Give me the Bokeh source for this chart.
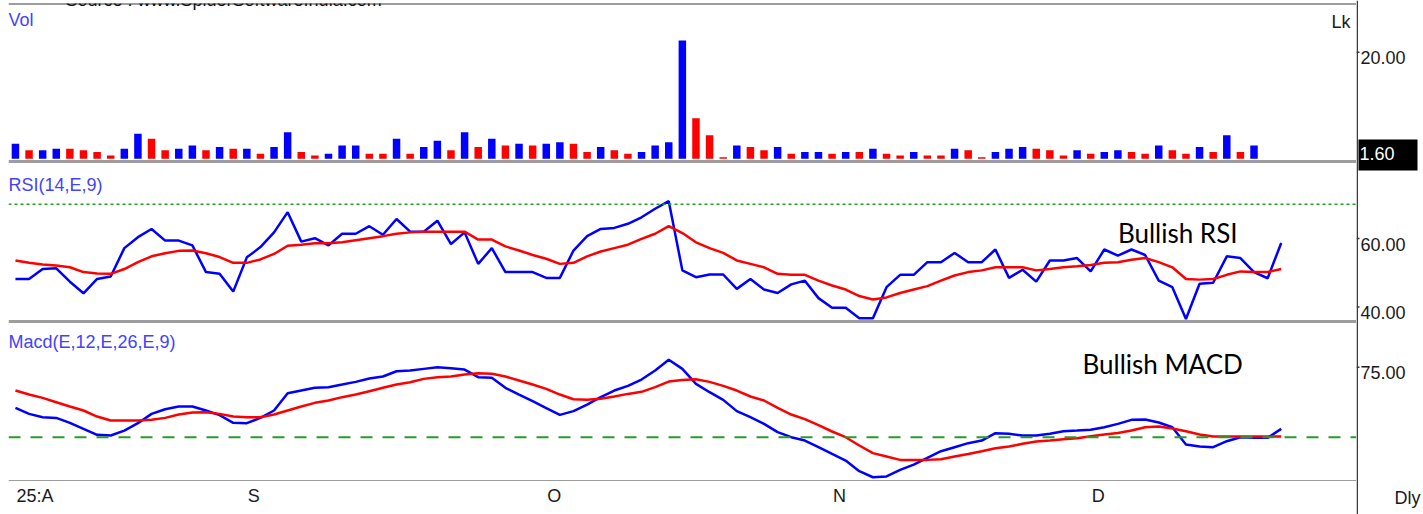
from bokeh.plotting import figure
from bokeh.layouts import column, row
from bokeh.models import Range1d, Span, Label, ColumnDataSource
from bokeh.core.properties import value
from bokeh.embed import file_html
from bokeh.resources import INLINE

# ---------------- data ----------------
volume = [2.8, 1.6, 1.6, 1.9, 1.9, 1.6, 1.25, 0.6, 1.9, 4.7, 3.75, 1.6, 1.9, 2.5, 1.6,
          2.2, 1.9, 1.9, 0.95, 2.2, 5.0, 1.25, 0.6, 0.95, 2.5, 2.5, 0.95, 0.95, 3.75, 0.95,
          2.2, 3.4, 1.6, 5.0, 2.2,
          3.75, 2.5, 2.8, 2.5, 2.8, 3.1, 2.8, 1.25, 2.2, 1.6, 0.95, 1.25, 2.5, 3.1, 22.2,
          7.6, 4.4, 0.3, 2.5, 2.2, 1.6, 2.2, 0.95, 1.25, 1.25, 0.95, 1.25, 1.25, 1.9, 0.95,
          0.6, 1.25, 0.6, 0.6,
          1.9, 1.6, 0.3, 1.25, 1.9, 2.2, 1.9, 1.6, 0.6, 1.6, 0.95, 1.25, 1.6, 1.25, 0.95,
          2.5, 1.6, 0.95, 2.2, 1.25, 4.4, 1.25, 2.5, 1.25, 1.60]
vol_dir = list("BRBBRRRRBBRRBBRBRBRBBRRBBBRRBRBBRBR"
               "BRBRBBRRBRRBBBBRRRBRRBRBBRBRBRRBRR"
               "BRRBBBRRRBRBBRRBRRBRBRB")

rsi = [48.2, 48.2, 51.1, 51.3, 47.4, 44.0, 48.2, 48.9, 57.2, 60.4, 62.8, 59.4, 59.4, 58.0,
       50.2, 49.7, 44.5, 54.5, 57.5, 61.8, 67.7, 59.1, 60.1, 58.0, 61.4, 61.4, 63.6, 61.1,
       65.7, 62.0, 62.0, 65.2, 58.4, 61.8, 52.6,
       57.2, 50.2, 50.2, 50.2, 48.5, 48.5, 56.5, 60.7, 62.8, 63.1, 64.3, 66.2, 68.7, 70.9,
       50.7, 48.7, 49.5, 49.5, 45.3, 48.2, 45.1, 44.1, 46.6, 47.7, 42.6, 39.8, 39.8, 36.7,
       36.7, 45.8, 49.4, 49.4, 53.1, 53.1,
       55.8, 53.1, 53.1, 56.8, 48.5, 50.9, 47.4, 53.6, 53.6, 54.3, 50.4, 56.8, 55.0, 56.8,
       55.2, 47.7, 45.8, 36.5, 46.8, 47.1, 54.8, 54.3, 50.2, 48.4, 58.7]
rsi_signal = [53.6, 52.9, 52.4, 52.1, 51.6, 50.2, 49.8, 49.7, 51.1, 53.1, 54.8, 55.7, 56.4,
              56.5, 55.7, 54.6, 52.9, 52.9, 53.9, 55.5, 57.9, 58.2, 58.6, 58.6, 58.9, 59.5,
              60.1, 60.7, 61.4, 61.8, 62.0, 62.0, 62.0, 62.0, 59.7,
              59.7, 57.7, 56.5, 55.2, 54.1, 52.6, 52.9, 54.8, 56.2, 57.2, 58.2, 59.9, 61.4,
              63.6, 61.6, 58.9, 57.2, 55.8, 53.6, 52.6, 51.6, 49.7, 49.4, 49.4, 47.7, 46.3,
              45.1, 43.2, 42.2, 42.8, 44.1, 45.1, 46.1, 47.7,
              49.2, 50.2, 50.7, 51.6, 51.6, 51.6, 50.7, 51.1, 51.6, 51.9, 52.3, 52.9, 53.1,
              53.8, 54.3, 53.1, 51.6, 48.2, 48.0, 48.2, 49.4, 50.4, 50.2, 50.2, 51.1]

macd = [31.4, 25.0, 21.4, 20.7, 15.4, 8.9, 2.5, 1.8, 7.1, 15.0, 25.0, 30.0, 32.9, 32.9,
        28.6, 23.6, 15.4, 15.0, 20.7, 28.6, 47.1, 50.0, 52.9, 53.6, 56.4, 59.3, 62.9, 65.0,
        70.7, 71.4, 73.2, 75.0, 73.9, 72.5, 64.3,
        63.6, 52.9, 45.7, 38.6, 31.1, 23.9, 27.9, 35.0, 42.9, 50.0, 55.0, 61.8, 71.4, 82.9,
        73.2, 57.1, 48.2, 40.0, 27.9, 21.4, 14.3, 5.4, 0.0, -3.6, -10.7, -17.9, -25.0,
        -36.4, -42.9, -42.1, -35.0, -29.3, -22.1, -15.0,
        -10.7, -6.4, -3.6, 4.3, 3.6, 1.8, 1.8, 3.6, 6.4, 7.1, 7.9, 10.7, 14.3, 18.6, 18.9,
        15.7, 10.7, -7.9, -10.0, -10.7, -4.3, 0.0, -0.7, -0.7, 8.9]
macd_signal = [50.0, 45.7, 42.1, 37.5, 32.9, 28.6, 22.1, 17.9, 17.9, 17.9, 18.6, 20.7, 24.3,
               26.4, 26.8, 25.0, 22.1, 21.4, 21.4, 24.3, 28.6, 32.9, 36.8, 39.3, 42.9, 45.7,
               49.3, 52.9, 56.4, 58.9, 62.5, 64.3, 65.0, 67.1, 68.6,
               67.9, 65.0, 60.7, 56.4, 51.8, 45.7, 40.7, 40.0, 41.1, 43.6, 46.4, 48.6, 53.6,
               59.6, 61.4, 62.1, 59.3, 55.0, 50.0, 43.6, 39.3, 31.4, 24.3, 19.3, 12.9, 6.1,
               0.0, -8.9, -17.1, -20.7, -24.3, -24.3, -24.3, -23.6,
               -20.7, -17.9, -15.0, -11.8, -10.0, -7.1, -4.6, -3.6, -2.1, -1.1, 1.1, 2.9, 4.6,
               7.1, 10.7, 11.4, 9.3, 6.4, 2.9, 0.7, 0.7, 0.7, 0.7, 0.7, 0.7]

month_ticks = [0, 17, 39, 60, 79]
month_labels = ["25:A", "S", "O", "N", "D"]
vol_ticks = [20]
rsi_ticks = [60, 40]
macd_ticks = [75]
rsi_overbought = 70
macd_zero = 0

# ---------------- styling / layout ----------------
FONT = "Liberation Sans"
AX_COLOR = "#3a3a3a"
SEP_COLOR = "#3c3c3c"
LBL_BLUE = "#4343ff"
TXT = "#1a1a1a"
LB = 8            # left margin before plot frames
FRAME_W = 1348    # width of the plot frames
AXIS_W = 66       # width of the right-hand value scale column
TOP_PAD = 3
VOL_H, RSI_H, MACD_H, STRIP_H = 158, 160, 160, 33
TOTAL_H = TOP_PAD + VOL_H + RSI_H + MACD_H + STRIP_H
TICK_LEN = 3
DLY_STANDOFF = 38

idx = list(range(len(volume)))
x_rng = Range1d(-0.51, 98.53)


def base_fig(height, y_rng, top_border=0):
    p = figure(width=LB + FRAME_W, height=height, x_range=x_rng, y_range=y_rng,
               output_backend="svg", toolbar_location=None,
               x_axis_location=None, y_axis_location=None,
               min_border_left=LB, min_border_right=0,
               min_border_top=top_border, min_border_bottom=0)
    p.outline_line_color = None
    p.xgrid.visible = False
    p.ygrid.visible = False
    return p


def make_panel(height, y_rng, top_border=0):
    p = base_fig(height, y_rng, top_border)
    for loc in (y_rng.start, y_rng.end):
        p.add_layout(Span(location=loc, dimension="width",
                          line_color=SEP_COLOR, line_width=2))
    return p


def panel_title(p, text, y_off):
    p.add_layout(Label(x=x_rng.start, y=p.y_range.end, text=text,
                       text_font=FONT, text_font_size="18px",
                       text_color=LBL_BLUE, text_baseline="top",
                       x_offset=0, y_offset=y_off))


# ---------------- volume ----------------
vol_rng = Range1d(-0.51, 29.14)
pv = make_panel(TOP_PAD + VOL_H, vol_rng, top_border=TOP_PAD)
colors = ["#0000ff" if d == "B" else "#ff0000" for d in vol_dir]
vsrc = ColumnDataSource(dict(x=idx, top=volume, color=colors))
pv.vbar(x="x", top="top", bottom=0, width=0.55, fill_color="color",
        line_color=None, source=vsrc)
panel_title(pv, "Vol", -6)
pv.add_layout(Label(x=x_rng.end, y=vol_rng.end, text="Lk", text_font=FONT,
                    text_font_size="18px", text_color=TXT, text_align="right",
                    text_baseline="top", x_offset=-6, y_offset=-8))
pv.add_layout(Label(x=x_rng.start, y=vol_rng.end,
                    text="Source : www.SpiderSoftwareIndia.com",
                    text_font="Liberation Sans", text_font_size="18px",
                    text_color="#111111", text_baseline="middle",
                    x_offset=57, y_offset=4))

# ---------------- RSI ----------------
rsi_rng = Range1d(35.77, 82.5)
pr = make_panel(RSI_H, rsi_rng)
pr.add_layout(Span(location=rsi_overbought, dimension="width",
                   line_color="#22a022", line_width=1.5, line_dash="3 3"))
pr.line(idx, rsi, line_color="#0000ff", line_width=2.5)
pr.line(idx, rsi_signal, line_color="#ff0000", line_width=2.5)
panel_title(pr, "RSI(14,E,9)", -13)
pr.add_layout(Label(x=81.0, y=61.5, text="Bullish RSI", text_font="Lato",
                    text_font_size="26px", text_color="black",
                    text_baseline="middle"))

# ---------------- MACD ----------------
macd_rng = Range1d(-47.47, 123.97)
pm = make_panel(MACD_H, macd_rng)
pm.add_layout(Span(location=macd_zero, dimension="width",
                   line_color="#2a9a2a", line_width=2, line_dash="12 10"))
pm.line(idx, macd, line_color="#0000ff", line_width=2.5)
pm.line(idx, macd_signal, line_color="#ff0000", line_width=2.5)
panel_title(pm, "Macd(E,12,E,26,E,9)", -10)
pm.add_layout(Label(x=78.4, y=77.9, text="Bullish MACD", text_font="Lato",
                    text_font_size="26px", text_color="black",
                    text_baseline="middle"))

# ---------------- date strip ----------------
strip_rng = Range1d(0, 1)
ps = base_fig(STRIP_H, strip_rng)
ps.text(x=month_ticks, y=[strip_rng.end] * len(month_ticks), text=month_labels,
        text_font=value(FONT), text_font_size=value("18px"), text_color=TXT,
        text_align="left", text_baseline="top", x_offset=1, y_offset=4)

# ---------------- right-hand value scale (one column for all panels) ----------------
def extend(rng, top_px, bottom_px):
    """Range for the full-height scale column so that rng spans [top_px, bottom_px]."""
    per_px = (rng.end - rng.start) / (bottom_px - top_px)
    return Range1d(rng.start - (TOTAL_H - bottom_px) * per_px, rng.end + top_px * per_px)


vol_top = TOP_PAD
rsi_top = vol_top + VOL_H
macd_top = rsi_top + RSI_H
strip_top = macd_top + MACD_H

pa = figure(width=AXIS_W, height=TOTAL_H, x_range=Range1d(0, AXIS_W),
            y_range=Range1d(0, 1), output_backend="svg", toolbar_location=None,
            x_axis_location=None, y_axis_location=None,
            min_border_left=0, min_border_right=0, min_border_top=0, min_border_bottom=0)
pa.outline_line_color = None
pa.xgrid.visible = False
pa.ygrid.visible = False
pa.extra_y_ranges = {
    "vol": extend(vol_rng, vol_top, rsi_top),
    "rsi": extend(rsi_rng, rsi_top, macd_top),
    "macd": extend(macd_rng, macd_top, strip_top),
    "strip": extend(strip_rng, strip_top, TOTAL_H),
}
pa.add_layout(Span(location=0.75, dimension="height", line_color=AX_COLOR, line_width=1.5))

for name, ticks in (("vol", vol_ticks), ("rsi", rsi_ticks), ("macd", macd_ticks)):
    pa.segment(x0=[0] * len(ticks), x1=[TICK_LEN] * len(ticks), y0=ticks, y1=ticks,
               line_color=AX_COLOR, line_width=1.5, y_range_name=name)
    pa.text(x=[TICK_LEN] * len(ticks), y=ticks, text=[f"{t:.2f}" for t in ticks],
            text_font=value(FONT), text_font_size=value("18px"), text_color=TXT,
            text_align="left", text_baseline="top", x_offset=1, y_offset=-1,
            y_range_name=name)

# last volume value marker: white figure on a black box
last_vol = volume[-1]
pa.quad(left=[2], right=[61], top=[last_vol + 2.0], bottom=[last_vol - 3.8],
        fill_color="black", line_color=None, y_range_name="vol")
pa.text(x=[TICK_LEN], y=[last_vol], text=[f"{last_vol:.2f}"],
        text_font=value(FONT), text_font_size=value("18px"), text_color="white",
        text_align="left", text_baseline="top", x_offset=0, y_offset=-3,
        y_range_name="vol")

pa.text(x=[DLY_STANDOFF], y=[0.5], text=["Dly"], text_font=value(FONT),
        text_font_size=value("18px"), text_color=TXT, text_align="left",
        text_baseline="middle", y_range_name="strip")

layout = row(column(pv, pr, pm, ps), pa)

open("out.html", "w").write(file_html(layout, INLINE))
